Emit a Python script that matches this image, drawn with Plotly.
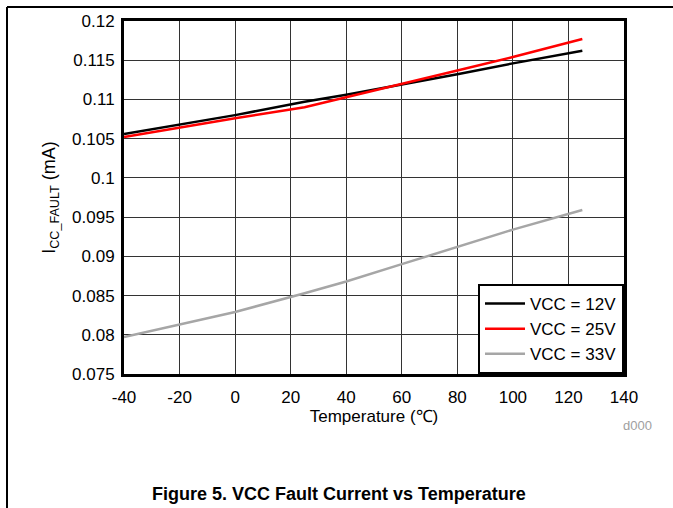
import plotly.graph_objects as go

# Supply current in fault state vs junction temperature
temperature = [-40, -20, 0, 25, 40, 60, 80, 100, 125]
icc_12v = [0.1056, 0.1068, 0.1080, 0.1097, 0.1106, 0.1119, 0.1132, 0.1146, 0.1162]
icc_25v = [0.1052, 0.1064, 0.1076, 0.1090, 0.1103, 0.1120, 0.1137, 0.1154, 0.1177]
icc_33v = [0.0797, 0.0813, 0.0829, 0.0853, 0.0868, 0.0890, 0.0912, 0.0934, 0.0959]

series_names = ["VCC = 12V", "VCC = 25V", "VCC = 33V"]
series_colors = ["#000000", "#ff0000", "#a6a6a6"]

x_ticks = [-40, -20, 0, 20, 40, 60, 80, 100, 120, 140]
x_tick_text = ["-40", "-20", "0", "20", "40", "60", "80", "100", "120", "140"]
y_ticks = [0.075, 0.08, 0.085, 0.09, 0.095, 0.1, 0.105, 0.11, 0.115, 0.12]
y_tick_text = ["0.075", "0.08", "0.085", "0.09", "0.095", "0.1", "0.105", "0.11", "0.115", "0.12"]

FONT = "Liberation Sans, Arial, sans-serif"

fig = go.Figure()
for name, color, values in zip(series_names, series_colors, [icc_12v, icc_25v, icc_33v]):
    fig.add_trace(go.Scatter(
        x=temperature, y=values, mode="lines", name=name,
        line=dict(color=color, width=2.5),
    ))

axis_common = dict(
    showline=True, linecolor="black", linewidth=3, mirror=True,
    showgrid=True, gridcolor="#333333", gridwidth=1,
    zeroline=False, ticks="", tickfont=dict(family=FONT, size=17, color="black"),
)

fig.update_xaxes(
    range=[-40, 140], tickvals=x_ticks, ticktext=x_tick_text, ticklabelstandoff=6,
    title=dict(text="Temperature (\u2103)", font=dict(family=FONT, size=17, color="black"), standoff=2),
    **axis_common,
)
fig.update_yaxes(
    range=[0.075, 0.12], tickvals=y_ticks, ticktext=y_tick_text, ticklabelstandoff=3,
    title=dict(text="I<sub>CC_FAULT</sub> (mA)", font=dict(family=FONT, size=18, color="black"), standoff=12),
    **axis_common,
)

fig.update_layout(
    width=673, height=508,
    margin=dict(l=124, r=49, t=21, b=134),
    paper_bgcolor="white", plot_bgcolor="white",
    font=dict(family=FONT, color="black"),
    legend=dict(
        x=1, y=0, xanchor="right", yanchor="bottom",
        bgcolor="white", bordercolor="black", borderwidth=2,
        font=dict(family=FONT, size=17, color="black"),
        tracegroupgap=0, itemwidth=40,
    ),
    showlegend=True,
)

# Page frame lines
fig.add_shape(type="line", xref="paper", yref="paper",
              x0=(7 - 124) / 500, x1=(673 - 124) / 500, y0=(374 - 7) / 353, y1=(374 - 7) / 353,
              line=dict(color="black", width=2))
fig.add_shape(type="line", xref="paper", yref="paper",
              x0=(7 - 124) / 500, x1=(7 - 124) / 500, y0=(374 - 7) / 353, y1=(374 - 510) / 353,
              line=dict(color="black", width=2))

# Figure caption and drawing ID
fig.add_annotation(text="<b>Figure 5. VCC Fault Current vs Temperature</b>",
                   xref="paper", yref="paper", x=(339 - 124) / 500, y=(374 - 494) / 353,
                   xanchor="center", yanchor="middle", showarrow=False,
                   font=dict(family=FONT, size=18, color="black"))
fig.add_annotation(text="d000", xref="paper", yref="paper",
                   x=(637 - 124) / 500, y=(374 - 425) / 353,
                   xanchor="center", yanchor="middle", showarrow=False,
                   font=dict(family=FONT, size=13, color="#a0a0a0"))

fig.write_html("out.html")
